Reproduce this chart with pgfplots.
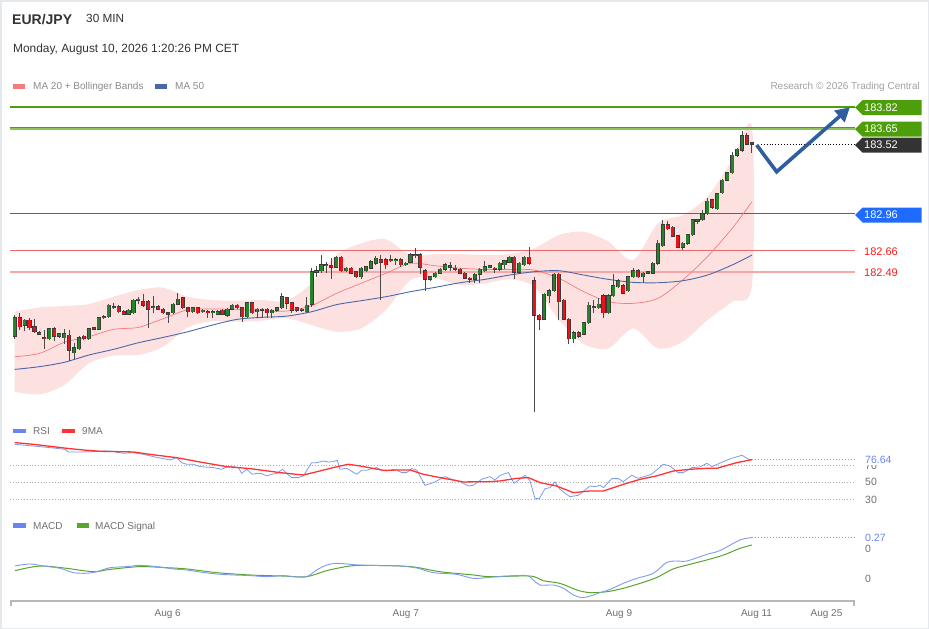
\documentclass[border=0pt]{standalone}
\usepackage{fontspec}
\setmainfont{Liberation Sans}
\usepackage{pgfplots}
\usepackage{pgfplotstable}
\pgfplotsset{compat=1.18}
\usetikzlibrary{arrows.meta}

\definecolor{cgreen}{HTML}{25842A}
\definecolor{cred}{HTML}{E8141C}
\definecolor{outl}{HTML}{3A3A3A}
\definecolor{wick}{HTML}{4A4A4A}
\definecolor{bbfill}{HTML}{FDE1E1}
\definecolor{ma20}{HTML}{F47C7C}
\definecolor{ma50}{HTML}{4A68A8}
\definecolor{lvlgreen}{HTML}{4E9E0C}
\definecolor{lvlgreenL}{HTML}{8CC65A}
\definecolor{lvlblue}{HTML}{3A62C8}
\definecolor{lvlred}{HTML}{E86A6A}
\definecolor{lvlredL}{HTML}{F6A8A8}
\definecolor{tagblue}{HTML}{1F6BFF}
\definecolor{tagdark}{HTML}{333333}
\definecolor{tagred}{HTML}{FF1A1A}
\definecolor{arrowblue}{HTML}{2F5E9E}
\definecolor{rsiblue}{HTML}{7D9CEE}
\definecolor{rsired}{HTML}{FF3333}
\definecolor{sigreen}{HTML}{5AA52E}
\definecolor{txtgray}{HTML}{8A8A8A}
\definecolor{lblgray}{HTML}{707070}
\definecolor{gridgray}{HTML}{B0B0B0}
\definecolor{axgray}{HTML}{B8B8B8}
\definecolor{lightframe}{HTML}{E4E9ED}
\definecolor{headc}{HTML}{333333}

% bullish candles (close > open)
\pgfplotstableread{
i O H L C
0 181.97 182.14 181.95 182.12
2 182.06 182.11 182.01 182.10
7 181.95 182.04 181.94 182.03
9 181.97 182.00 181.96 181.99
10 181.96 182.03 181.91 181.99
12 181.84 181.92 181.79 181.88
13 181.87 181.97 181.86 181.96
15 181.95 182.04 181.94 182.03
17 182.03 182.13 182.02 182.12
18 182.12 182.14 182.11 182.13
19 182.13 182.23 182.12 182.22
23 182.15 182.19 182.14 182.18
24 182.16 182.27 182.15 182.26
25 182.26 182.29 182.23 182.27
32 182.16 182.24 182.15 182.23
33 182.23 182.32 182.22 182.27
36 182.17 182.21 182.16 182.20
38 182.17 182.19 182.16 182.18
40 182.16 182.18 182.12 182.17
41 182.15 182.18 182.14 182.17
43 182.14 182.20 182.13 182.19
44 182.19 182.23 182.18 182.22
47 182.13 182.25 182.12 182.24
49 182.17 182.20 182.12 182.19
52 182.16 182.19 182.12 182.18
53 182.18 182.21 182.17 182.20
54 182.20 182.32 182.19 182.29
58 182.18 182.20 182.17 182.19
59 182.17 182.29 182.16 182.22
60 182.23 182.52 182.21 182.49
61 182.49 182.54 182.45 182.50
62 182.50 182.63 182.48 182.55
63 182.54 182.57 182.48 182.55
65 182.53 182.62 182.52 182.61
67 182.50 182.53 182.49 182.52
70 182.45 182.53 182.43 182.52
71 182.50 182.54 182.49 182.53
72 182.52 182.59 182.51 182.57
73 182.56 182.62 182.55 182.60
77 182.58 182.60 182.55 182.59
79 182.55 182.57 182.54 182.56
80 182.57 182.64 182.56 182.63
81 182.62 182.68 182.60 182.63
84 182.43 182.46 182.42 182.45
85 182.45 182.49 182.44 182.48
86 182.48 182.52 182.47 182.51
87 182.51 182.56 182.50 182.55
88 182.53 182.57 182.50 182.54
93 182.43 182.48 182.40 182.47
94 182.47 182.52 182.40 182.51
95 182.50 182.58 182.49 182.53
96 182.53 182.55 182.52 182.54
98 182.51 182.57 182.50 182.56
99 182.55 182.59 182.51 182.58
100 182.57 182.62 182.56 182.61
102 182.49 182.57 182.47 182.56
103 182.55 182.62 182.54 182.61
107 182.11 182.32 182.10 182.31
108 182.30 182.35 182.24 182.34
109 182.34 182.48 182.33 182.47
113 181.95 182.01 181.92 182.00
115 181.99 182.09 181.98 182.08
116 182.08 182.25 182.07 182.22
118 182.20 182.28 182.19 182.23
120 182.16 182.31 182.15 182.30
121 182.30 182.47 182.29 182.38
122 182.37 182.43 182.36 182.42
124 182.34 182.46 182.33 182.45
125 182.45 182.52 182.44 182.50
127 182.45 182.49 182.40 182.48
128 182.48 182.50 182.47 182.49
129 182.48 182.57 182.47 182.56
130 182.56 182.75 182.55 182.72
131 182.70 182.91 182.69 182.87
135 182.69 182.73 182.67 182.72
136 182.72 182.80 182.71 182.79
137 182.79 182.92 182.78 182.91
138 182.90 182.92 182.88 182.91
139 182.91 182.99 182.90 182.96
140 182.96 183.09 182.95 183.06
142 183.00 183.13 182.99 183.12
143 183.13 183.24 183.12 183.23
144 183.23 183.30 183.22 183.29
145 183.29 183.46 183.28 183.43
146 183.43 183.49 183.42 183.48
147 183.47 183.63 183.46 183.59
}\gtab

% bearish candles (close < open)
\pgfplotstableread{
i O H L C
1 182.12 182.16 182.02 182.05
3 182.10 182.12 182.02 182.04
4 182.05 182.11 182.00 182.01
5 182.00 182.01 181.98 181.99
6 181.96 182.02 181.87 181.95
8 182.03 182.05 181.93 181.97
11 181.98 182.02 181.77 181.86
14 181.97 181.98 181.94 181.95
16 182.04 182.05 182.02 182.03
20 182.21 182.24 182.19 182.20
21 182.21 182.22 182.16 182.17
22 182.17 182.18 182.14 182.15
26 182.25 182.31 182.21 182.22
27 182.25 182.26 182.04 182.19
28 182.21 182.30 182.16 182.20
29 182.21 182.22 182.18 182.19
30 182.19 182.20 182.15 182.16
31 182.16 182.17 182.08 182.15
34 182.28 182.29 182.19 182.20
35 182.20 182.21 182.13 182.17
37 182.20 182.21 182.15 182.16
39 182.17 182.18 182.12 182.16
42 182.18 182.19 182.14 182.15
45 182.22 182.23 182.19 182.20
46 182.20 182.21 182.09 182.13
48 182.24 182.25 182.15 182.16
50 182.19 182.20 182.12 182.18
51 182.19 182.20 182.12 182.16
55 182.28 182.29 182.19 182.24
56 182.24 182.25 182.16 182.18
57 182.20 182.21 182.17 182.18
64 182.54 182.60 182.43 182.53
66 182.61 182.62 182.49 182.50
68 182.52 182.53 182.47 182.48
69 182.49 182.50 182.44 182.45
74 182.59 182.63 182.26 182.57
75 182.59 182.60 182.51 182.55
76 182.59 182.63 182.57 182.58
78 182.59 182.60 182.53 182.55
82 182.63 182.64 182.47 182.53
83 182.50 182.51 182.34 182.43
89 182.52 182.55 182.50 182.51
90 182.51 182.52 182.47 182.48
91 182.48 182.49 182.43 182.44
92 182.44 182.45 182.40 182.43
97 182.52 182.53 182.48 182.51
101 182.61 182.62 182.43 182.49
104 182.61 182.69 182.55 182.56
105 182.42 182.45 181.36 182.14
106 182.14 182.15 182.02 182.11
110 182.47 182.48 182.10 182.25
111 182.26 182.27 182.10 182.11
112 182.11 182.12 181.91 181.95
114 182.00 182.01 181.96 181.97
117 182.21 182.26 182.16 182.20
119 182.30 182.31 182.12 182.16
123 182.38 182.39 182.31 182.32
126 182.50 182.51 182.44 182.45
132 182.87 182.90 182.83 182.84
133 182.85 182.86 182.77 182.78
134 182.78 182.79 182.68 182.69
141 183.07 183.08 183.00 183.01
148 183.59 183.61 183.51 183.52
149 183.53 183.53 183.45 183.52
}\rtab

\pgfplotstableread{
i up lo ma20 ma50
0 182.169 181.524 181.806 181.704
5 182.204 181.503 181.833 181.726
10 182.215 181.578 181.922 181.761
15 182.231 181.753 181.968 181.820
20 182.290 181.815 182.027 181.866
25 182.344 181.820 182.043 181.919
30 182.363 181.887 182.113 181.962
35 182.290 182.043 182.186 182.008
40 182.263 182.094 182.191 182.062
45 182.258 182.089 182.188 182.108
50 182.263 182.097 182.177 182.124
55 182.258 182.116 182.175 182.134
60 182.400 182.062 182.218 182.169
65 182.626 182.008 182.317 182.226
70 182.720 182.035 182.398 182.258
75 182.753 182.183 182.479 182.290
80 182.626 182.425 182.559 182.331
85 182.634 182.438 182.540 182.366
90 182.634 182.384 182.520 182.403
95 182.626 182.398 182.510 182.430
100 182.634 182.430 182.510 182.465
105 182.680 182.371 182.505 182.492
110 182.788 182.102 182.438 182.500
115 182.814 181.909 182.331 182.465
120 182.734 181.874 182.250 182.430
125 182.586 182.035 182.237 182.406
130 182.882 181.874 182.277 182.403
135 182.949 181.927 182.425 182.419
140 183.097 182.102 182.613 182.465
145 183.392 182.250 182.841 182.546
149 183.661 182.384 183.056 182.626
}\bands

\pgfplotstableread{
i r
0 94.7
3.77 92.7
7.13 90.8
10.17 88.8
10.84 85.7
13.87 85.7
17.24 86.5
19.26 86.9
21.95 84.1
23.97 84.9
26.0 82.9
28.02 80.2
30.04 77.8
31.39 76.3
32.73 79.0
33.74 73.1
34.76 71.2
36.1 71.2
37.45 68.4
40.14 67.3
41.83 65.3
42.84 68.0
44.18 68.4
45.2 67.3
45.87 60.6
46.88 65.3
48.02 59.4
48.9 60.6
49.91 60.2
50.92 57.5
51.93 59.4
52.94 60.6
54.16 65.3
54.97 60.6
55.97 55.5
57.32 55.5
58.33 57.5
60.02 73.1
61.03 73.1
62.38 75.1
63.38 73.9
64.39 74.3
65.2 75.9
65.74 65.3
67.09 66.5
69.11 59.4
70.12 64.1
71.13 64.1
72.14 66.1
73.15 67.3
74.16 64.1
75.17 63.3
76.18 64.5
77.2 64.5
78.2 61.4
79.2 61.4
80.23 66.1
81.24 64.5
82.92 46.5
84.61 49.6
86.97 56.7
88.32 53.5
89.67 51.6
91.69 45.7
92.7 46.5
94.38 53.5
96.07 56.7
97.08 52.7
98.09 58.2
99.78 61.4
100.92 48.8
103.15 58.2
104.16 51.6
105.16 30.8
106.03 30.8
107.18 42.5
108.2 43.7
109.2 50.4
110.2 41.8
112.2 33.1
113.9 34.7
116.3 45.7
117.3 44.9
118.3 46.5
119.0 43.7
120.65 54.3
122.0 54.3
123.0 50.8
124.7 58.2
126.0 54.7
127.7 57.5
128.7 59.4
131.1 71.2
132.4 69.2
134.1 61.4
135.1 61.4
136.9 67.3
138.5 68.0
139.9 72.4
140.9 68.4
143.2 74.3
144.9 78.2
147.0 81.8
148.3 77.1
149.0 76.64
}\rsi

\pgfplotstableread{
i r
0 96.7
3.77 94.7
10.5 90.0
13.87 88.0
17.24 86.5
23.97 85.7
27.3 82.9
32.7 79.0
37.45 73.9
42.84 68.4
47.55 66.1
53.6 61.4
58.3 58.6
60.35 61.4
64.4 67.3
67.4 71.2
69.8 69.2
74.5 64.1
77.87 64.5
79.9 64.5
82.6 59.4
85.95 55.5
90.7 50.4
96.07 50.8
98.1 51.6
101.5 54.7
103.8 55.5
106.2 49.6
109.5 45.7
112.9 37.8
116.3 39.8
119.0 39.8
123.0 47.6
126.4 53.5
129.7 57.5
133.1 63.3
136.5 65.3
139.9 66.5
141.9 66.5
145.9 73.1
149.0 76.64
}\rsima

\pgfplotstableread{
i m
0.06 0.084
3.09 0.097
5.79 0.084
9.16 0.069
11.85 0.041
14.54 0.037
16.56 0.047
19.26 0.073
22.63 0.080
25.32 0.088
28.69 0.080
32.06 0.065
34.75 0.058
37.45 0.045
40.82 0.032
44.18 0.026
47.55 0.022
50.92 0.015
54.29 0.022
56.31 0.015
59.0 0.015
61.03 0.058
63.05 0.090
65.07 0.101
67.76 0.095
69.78 0.090
74.5 0.086
77.87 0.084
81.24 0.071
84.6 0.041
89.3 0.030
92.7 0.004
96.07 0.011
99.4 0.019
103.5 0.022
104.8 -0.006
106.2 -0.039
108.9 -0.039
110.9 -0.060
112.9 -0.103
114.6 -0.120
116.3 -0.110
118.3 -0.088
120.3 -0.067
123.0 -0.028
125.7 0.004
129.1 0.037
131.8 0.108
133.8 0.116
135.8 0.116
139.9 0.159
142.5 0.183
146.6 0.252
149.0 0.267
}\macd

\pgfplotstableread{
i m
0.06 0.054
3.09 0.075
5.79 0.084
10.5 0.069
15.9 0.047
19.26 0.062
25.32 0.080
30.71 0.073
34.75 0.065
40.82 0.041
47.55 0.026
54.29 0.019
59.0 0.015
63.05 0.054
67.76 0.084
71.13 0.088
77.87 0.084
81.24 0.075
85.95 0.047
92.7 0.026
96.07 0.015
104.2 0.019
106.8 -0.011
110.2 -0.028
113.6 -0.071
116.3 -0.088
119.7 -0.082
123.0 -0.060
126.4 -0.028
129.7 0.009
133.1 0.065
136.5 0.095
139.9 0.123
143.3 0.155
146.6 0.198
149.0 0.219
}\signal

\newcommand{\pricetag}[3]{%
  \fill[#2] (855pt,-#1pt) -- (862.5pt,-#1pt+7.5pt) -- (921.5pt,-#1pt+7.5pt) -- (921.5pt,-#1pt-7.5pt) -- (862.5pt,-#1pt-7.5pt) -- cycle;
  \node[anchor=west, text=white, inner sep=0pt, font=\fontsize{11}{13}\selectfont] at (864pt,-#1pt) {#3};}

\pgfplotsset{
  wickbars/.style={draw=none, mark=none, forget plot,
    error bars/.cd, y dir=plus, y explicit, error mark=none,
    error bar style={draw=wick, line width=1pt, solid}},
  bodybars/.style 2 args={draw=none, mark=none, forget plot,
    error bars/.cd, y dir=plus, y explicit, error mark=none,
    error bar style={draw=#1, line width=#2, solid}},
}

\begin{document}
\begin{tikzpicture}
\path[use as bounding box] (0pt,0pt) rectangle (929pt,-629pt);
\fill[white] (0pt,0pt) rectangle (929pt,-629pt);

% ---------- main price axis ----------
\begin{axis}[at={(10pt,-98pt)}, anchor=north west, scale only axis,
  width=845pt, height=320pt, xmin=-0.95, xmax=169.83,
  ymin=181.312, ymax=183.893, hide axis, clip=false]
  % Bollinger band
  \addplot[fill=bbfill, draw=none, smooth, tension=0.5] coordinates {
   (0,182.169) (5,182.204) (10,182.215) (15,182.231) (20,182.290) (25,182.344) (30,182.363)
   (35,182.290) (40,182.263) (45,182.258) (50,182.263) (55,182.258) (60,182.400) (65,182.626)
   (70,182.720) (75,182.753) (80,182.626) (85,182.634) (90,182.634) (95,182.626) (100,182.634)
   (105,182.680) (110,182.788) (115,182.814) (120,182.734) (125,182.586) (130,182.882)
   (135,182.949) (140,183.097) (145,183.392) (149,183.661)
   (149,182.384) (145,182.250) (140,182.102) (135,181.927) (130,181.874) (125,182.035)
   (120,181.874) (115,181.909) (110,182.102) (105,182.371) (100,182.430) (95,182.398)
   (90,182.384) (85,182.438) (80,182.425) (75,182.183) (70,182.035) (65,182.008) (60,182.062)
   (55,182.116) (50,182.097) (45,182.089) (40,182.094) (35,182.043) (30,181.887) (25,181.820)
   (20,181.815) (15,181.753) (10,181.578) (5,181.503) (0,181.524)};
  % levels
  \addplot[lvlgreen, line width=2pt] coordinates {(-0.95,183.82) (169.83,183.82)};
  \addplot[lvlgreenL, line width=3pt] coordinates {(-0.95,183.65) (169.83,183.65)};
  \addplot[lvlgreen, line width=1.2pt] coordinates {(-0.95,183.656) (169.83,183.656)};
  \addplot[lvlblue, line width=1.2pt] coordinates {(-0.95,182.96) (169.83,182.96)};
  \addplot[lvlred, line width=1pt] coordinates {(-0.95,182.66) (169.83,182.66)};
  \addplot[lvlredL, line width=2pt] coordinates {(-0.95,182.49) (169.83,182.49)};
  % moving averages
  \addplot[ma20, line width=0.7pt, smooth] table[x=i, y=ma20]{\bands};
  \addplot[ma50, line width=0.9pt, smooth] table[x=i, y=ma50]{\bands};
  % wicks
  \addplot[wickbars] table[x=i, y=L, y error plus expr={\thisrow{H}-\thisrow{L}}]{\gtab};
  \addplot[wickbars] table[x=i, y=L, y error plus expr={\thisrow{H}-\thisrow{L}}]{\rtab};
  % body outlines
  \addplot[bodybars={outl}{4.1pt}] table[x=i, y expr={\thisrow{O}-0.0045}, y error plus expr={max(\thisrow{C}-\thisrow{O},0.0081)+0.009}]{\gtab};
  \addplot[bodybars={outl}{4.1pt}] table[x=i, y expr={\thisrow{C}-0.0045}, y error plus expr={max(\thisrow{O}-\thisrow{C},0.0081)+0.009}]{\rtab};
  % bodies
  \addplot[bodybars={cgreen}{2.7pt}] table[x=i, y=O, y error plus expr={max(\thisrow{C}-\thisrow{O},0.0081)}]{\gtab};
  \addplot[bodybars={cred}{2.7pt}] table[x=i, y=C, y error plus expr={max(\thisrow{O}-\thisrow{C},0.0081)}]{\rtab};
  % last price dotted
  \addplot[black, dotted, line width=0.9pt] coordinates {(150.8,183.52) (169.83,183.52)};
  % projection arrow
  \addplot[arrowblue, line width=3.6pt, line join=miter,
    -{Triangle[length=14pt,width=15pt]}] coordinates {(149.95,183.514) (153.99,183.298) (168.8,183.818)};
\end{axis}

% ---------- RSI axis ----------
\begin{axis}[at={(10pt,-436pt)}, anchor=north west, scale only axis,
  width=845pt, height=74pt, xmin=-0.95, xmax=169.83,
  ymin=17.41, ymax=104.47, hide axis, clip=false]
  \addplot[gridgray, dotted, line width=0.8pt] coordinates {(-0.95,70) (169.83,70)};
  \addplot[gridgray, dotted, line width=0.8pt] coordinates {(-0.95,50) (169.83,50)};
  \addplot[gridgray, dotted, line width=0.8pt] coordinates {(-0.95,30) (169.83,30)};
  \addplot[rsiblue, dotted, line width=1pt] coordinates {(149.0,76.64) (169.83,76.64)};
  \addplot[rsiblue, line width=0.8pt] table[x=i, y=r]{\rsi};
  \addplot[rsired, line width=1.3pt] table[x=i, y=r]{\rsima};
\end{axis}

% ---------- MACD axis ----------
\begin{axis}[at={(10pt,-530pt)}, anchor=north west, scale only axis,
  width=845pt, height=70pt, xmin=-0.95, xmax=169.83,
  ymin=-0.1355, ymax=0.3161, hide axis, clip=false]
  \addplot[rsiblue, dotted, line width=1pt] coordinates {(149.0,0.267) (169.83,0.267)};
  \addplot[sigreen, line width=1pt, smooth] table[x=i, y=m]{\signal};
  \addplot[rsiblue, line width=0.9pt, smooth] table[x=i, y=m]{\macd};
\end{axis}

% ---------- header ----------
\node[anchor=base west, inner sep=0pt, text=headc, font=\fontsize{14}{16}\selectfont\bfseries] at (12pt,-24pt) {EUR/JPY};
\node[anchor=base west, inner sep=0pt, text=headc, font=\fontsize{11.8}{14}\selectfont] at (86pt,-22.7pt) {30 MIN};
\node[anchor=base west, inner sep=0pt, text=headc, font=\fontsize{11.9}{14}\selectfont] at (13pt,-52.2pt) {Monday, August 10, 2026 1:20:26 PM CET};

% legend main
\fill[ma20] (13pt,-84pt) rectangle (25pt,-89pt);
\node[anchor=base west, inner sep=0pt, text=txtgray, font=\fontsize{10}{12}\selectfont] at (33pt,-89pt) {MA 20 + Bollinger Bands};
\fill[ma50] (155pt,-84pt) rectangle (167pt,-89pt);
\node[anchor=base west, inner sep=0pt, text=txtgray, font=\fontsize{10}{12}\selectfont] at (175pt,-89pt) {MA 50};
\node[anchor=base east, inner sep=0pt, text=txtgray!80, font=\fontsize{10}{12}\selectfont] at (920pt,-89pt) {Research © 2026 Trading Central};

% price tags
\pricetag{107.5}{lvlgreen}{183.82}
\pricetag{129.2}{lvlgreen}{183.65}
\pricetag{145.2}{tagdark}{183.52}
\pricetag{215}{tagblue}{182.96}
\node[anchor=west, inner sep=0pt, text=tagred, font=\fontsize{11}{13}\selectfont] at (864pt,-251.3pt) {182.66};
\node[anchor=west, inner sep=0pt, text=tagred, font=\fontsize{11}{13}\selectfont] at (864pt,-272.8pt) {182.49};

% RSI legend and labels
\fill[rsiblue!85!blue] (13pt,-428.5pt) rectangle (26pt,-433pt);
\node[anchor=base west, inner sep=0pt, text=lblgray, font=\fontsize{10}{12}\selectfont] at (33pt,-434.5pt) {RSI};
\fill[rsired] (62pt,-428.5pt) rectangle (75pt,-433pt);
\node[anchor=base west, inner sep=0pt, text=lblgray, font=\fontsize{10}{12}\selectfont] at (82pt,-434.5pt) {9MA};
\node[anchor=west, inner sep=0pt, text=lblgray, font=\fontsize{10.5}{12}\selectfont] at (865pt,-466pt) {70};
\node[anchor=west, inner sep=0pt, text=lblgray, font=\fontsize{10.5}{12}\selectfont] at (865pt,-482pt) {50};
\node[anchor=west, inner sep=0pt, text=lblgray, font=\fontsize{10.5}{12}\selectfont] at (865pt,-499.5pt) {30};
\node[anchor=west, inner xsep=0pt, inner ysep=1.5pt, fill=white, text=rsiblue!85!blue, font=\fontsize{10.5}{12}\selectfont] at (865pt,-459.5pt) {76.64};

% MACD legend and labels
\fill[rsiblue!85!blue] (13pt,-522.5pt) rectangle (26pt,-527.5pt);
\node[anchor=base west, inner sep=0pt, text=lblgray, font=\fontsize{10}{12}\selectfont] at (33pt,-529pt) {MACD};
\fill[sigreen] (77pt,-522.5pt) rectangle (89pt,-527.5pt);
\node[anchor=base west, inner sep=0pt, text=lblgray, font=\fontsize{10}{12}\selectfont] at (95pt,-529pt) {MACD Signal};
\node[anchor=west, inner sep=0pt, text=lblgray, font=\fontsize{10.5}{12}\selectfont] at (865pt,-548.5pt) {0};
\node[anchor=west, inner sep=0pt, text=lblgray, font=\fontsize{10.5}{12}\selectfont] at (865pt,-579.3pt) {0};
\node[anchor=west, inner xsep=0pt, inner ysep=1.5pt, fill=white, text=rsiblue!85!blue, font=\fontsize{10.5}{12}\selectfont] at (865pt,-538.3pt) {0.27};

% x axis
\draw[axgray, line width=2pt] (11pt,-601pt) -- (854pt,-601pt);
\draw[axgray, line width=1.5pt] (11pt,-600pt) -- (11pt,-606pt);
\draw[axgray, line width=1.5pt] (854pt,-600pt) -- (854pt,-606pt);
\foreach \xx/\lab in {167.7/Aug 6, 405.8/Aug 7, 619/Aug 9, 756.5/Aug 11, 826.5/Aug 25}{
  \node[anchor=base, inner sep=0pt, text=lblgray, font=\fontsize{10}{12}\selectfont] at (\xx pt,-616.5pt) {\lab};
}

% frame
\draw[lightframe, line width=1.5pt] (0.75pt,-0.75pt) rectangle (928.25pt,-628.25pt);
\end{tikzpicture}
\end{document}
